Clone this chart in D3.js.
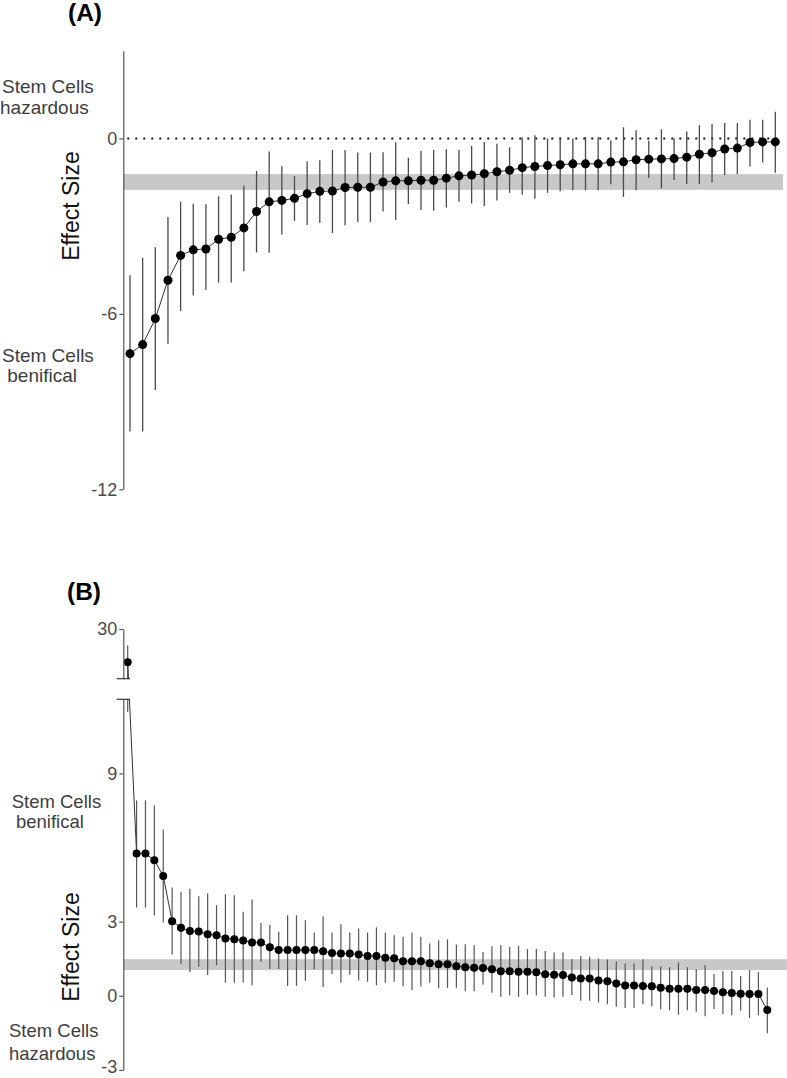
<!DOCTYPE html>
<html>
<head>
<meta charset="utf-8">
<script src="https://cdn.jsdelivr.net/npm/d3@7"></script>
<style>
  body { margin: 0; background: #fff; }
  text { font-family: "Liberation Sans", Arial, sans-serif; }
</style>
</head>
<body>
<div id="chart"></div>
<script>
// Panel A: effect sizes (mean + interval), sorted
var aMean = [-7.36, -7.05, -6.16, -4.85, -4.00, -3.81, -3.78, -3.45, -3.38, -3.06,
  -2.50, -2.17, -2.12, -2.05, -1.89, -1.81, -1.80, -1.68, -1.67, -1.67,
  -1.49, -1.45, -1.45, -1.43, -1.43, -1.36, -1.28, -1.25, -1.21, -1.14,
  -1.09, -1.00, -0.96, -0.93, -0.90, -0.87, -0.87, -0.87, -0.81, -0.80,
  -0.73, -0.71, -0.70, -0.69, -0.64, -0.54, -0.49, -0.36, -0.33, -0.14,
  -0.12, -0.12];
var aHigh = [-4.68, -4.08, -3.72, -2.69, -2.16, -2.23, -2.25, -1.98, -1.92, -1.61,
  -1.11, -0.45, -0.95, -1.29, -0.78, -0.75, -0.39, -0.40, -0.48, -0.48,
  -0.47, -0.13, -0.66, -0.42, -0.40, -0.37, -0.39, -0.26, -0.12, -0.18,
  -0.30, 0.03, 0.11, 0.00, 0.00, 0.00, 0.05, 0.05, -0.06, 0.38,
  0.28, -0.08, 0.31, 0.01, 0.24, 0.45, 0.49, 0.53, 0.53, 0.64,
  0.64, 0.91];
var aLow = [-10.02, -10.02, -8.60, -7.02, -5.90, -5.37, -5.18, -4.93, -4.93, -4.54,
  -3.90, -3.91, -3.29, -2.82, -2.96, -2.89, -3.24, -2.97, -2.86, -2.86,
  -2.50, -2.79, -2.24, -2.45, -2.47, -2.36, -2.17, -2.23, -2.31, -2.12,
  -1.86, -1.93, -2.06, -1.86, -1.81, -1.77, -1.77, -1.77, -1.57, -2.00,
  -1.77, -1.35, -1.71, -1.42, -1.56, -1.56, -1.51, -1.25, -1.22, -0.96,
  -0.82, -1.17];
var aBand = [-1.76, -1.22];
var aTicks = [0, -6, -12];

// Panel B
var bMean = [26.0, 5.76, 5.76, 5.49, 4.85, 3.02, 2.75, 2.62, 2.60, 2.49,
  2.45, 2.32, 2.29, 2.24, 2.16, 2.16, 1.96, 1.85, 1.85, 1.85,
  1.85, 1.85, 1.80, 1.73, 1.71, 1.71, 1.67, 1.61, 1.61, 1.54,
  1.52, 1.40, 1.40, 1.40, 1.32, 1.28, 1.28, 1.20, 1.15, 1.13,
  1.12, 1.07, 0.99, 0.99, 0.97, 0.97, 0.95, 0.87, 0.85, 0.84,
  0.74, 0.70, 0.70, 0.62, 0.59, 0.50, 0.42, 0.42, 0.40, 0.39,
  0.32, 0.28, 0.28, 0.28, 0.23, 0.23, 0.19, 0.14, 0.11, 0.08,
  0.07, 0.07, -0.58];
var bHigh = [28.0, 7.91, 7.91, 7.70, 6.73, 4.38, 4.21, 4.33, 4.03, 4.14,
  3.67, 4.11, 4.07, 3.40, 3.90, 2.95, 2.86, 2.59, 3.26, 3.26,
  3.06, 2.56, 3.22, 2.56, 2.90, 2.56, 2.72, 2.56, 2.77, 2.56,
  2.45, 2.39, 2.56, 2.39, 2.12, 2.25, 2.28, 2.08, 2.09, 2.05,
  1.77, 2.00, 2.05, 1.98, 2.02, 1.89, 1.89, 1.81, 1.75, 1.75,
  1.48, 1.61, 1.58, 1.51, 1.47, 1.40, 1.31, 1.31, 1.47, 1.20,
  1.20, 1.16, 1.35, 1.15, 1.08, 1.24, 0.88, 1.00, 1.00, 0.80,
  1.04, 0.96, 0.34];
var bLow = [11.5, 3.57, 3.57, 3.25, 2.97, 1.67, 1.29, 0.95, 1.17, 0.84,
  1.24, 0.53, 0.53, 0.54, 0.43, 1.37, 1.08, 1.08, 0.40, 0.40,
  0.61, 1.07, 0.36, 0.88, 0.53, 0.85, 0.62, 0.57, 0.43, 0.53,
  0.57, 0.39, 0.23, 0.39, 0.53, 0.30, 0.32, 0.32, 0.18, 0.18,
  0.46, 0.12, -0.04, 0.01, -0.05, 0.04, 0.01, -0.04, -0.07, -0.04,
  0.03, -0.20, -0.20, -0.27, -0.34, -0.44, -0.49, -0.49, -0.34, -0.42,
  -0.55, -0.59, -0.77, -0.59, -0.65, -0.83, -0.54, -0.74, -0.79, -0.61,
  -0.90, -0.79, -1.52];
var bBand = [1.04, 1.48];
var bTicksLow = [9, 3, 0, -3];
var bTicksTop = [30];

var svgWidth = 787;
var svgHeight = 1078;
var axisX = 123.3;
var textColor = "#3d3d3d";
var plainFormat = d => String(d);   // hyphen minus, like the original

var svg = d3.select("#chart")
  .append("svg")
  .attr("width", svgWidth)
  .attr("height", svgHeight);

var defs = svg.append("defs");

function styleAxis(g) {
  g.select(".domain").attr("stroke", "#555").attr("stroke-width", 1.2);
  g.selectAll(".tick line").attr("stroke", "#555").attr("stroke-width", 1.2);
  g.selectAll(".tick text")
    .attr("fill", "#4a4a4a")
    .attr("font-size", 18)
    .attr("font-family", "'Liberation Sans', Arial, sans-serif");
}

function sideLabel(lines, x, y, size) {
  lines.forEach(function(l, i) {
    svg.append("text")
      .attr("x", x[i])
      .attr("y", y[i])
      .attr("font-size", size)
      .attr("fill", textColor)
      .text(l);
  });
}

// ---------------- Panel A ----------------
var xA = d3.scaleLinear().domain([0, aMean.length - 1]).range([130, 775.3]);
var yA = d3.scaleLinear().domain([-12, 3]).range([489.3, 50.7]);
var aData = aMean.map(function(m, i) { return { i: i, m: m, lo: aLow[i], hi: aHigh[i] }; });

var gA = svg.append("g");

gA.append("rect")
  .attr("x", axisX)
  .attr("y", yA(aBand[1]))
  .attr("width", 783 - axisX)
  .attr("height", yA(aBand[0]) - yA(aBand[1]))
  .attr("fill", "#c8c8c8");

gA.append("line")
  .attr("x1", axisX + 4)
  .attr("x2", 783)
  .attr("y1", yA(0))
  .attr("y2", yA(0))
  .attr("stroke", "#111")
  .attr("stroke-width", 2)
  .attr("stroke-dasharray", "2,6");

gA.selectAll(".err")
  .data(aData)
  .enter()
  .append("line")
  .attr("x1", d => xA(d.i))
  .attr("x2", d => xA(d.i))
  .attr("y1", d => yA(d.hi))
  .attr("y2", d => yA(d.lo))
  .attr("stroke", "#4a4a4a")
  .attr("stroke-width", 1.3);

gA.append("path")
  .datum(aData)
  .attr("fill", "none")
  .attr("stroke", "#333")
  .attr("stroke-width", 1)
  .attr("d", d3.line().x(d => xA(d.i)).y(d => yA(d.m)));

gA.selectAll("circle")
  .data(aData)
  .enter()
  .append("circle")
  .attr("cx", d => xA(d.i))
  .attr("cy", d => yA(d.m))
  .attr("r", 4.5)
  .attr("fill", "#000");

svg.append("g")
  .attr("transform", `translate(${axisX},0)`)
  .call(d3.axisLeft(yA).tickValues(aTicks).tickSize(4).tickSizeOuter(0).tickPadding(2).tickFormat(plainFormat))
  .call(styleAxis);

svg.append("text")
  .attr("x", 68)
  .attr("y", 21)
  .attr("font-size", 24.5)
  .attr("font-weight", "bold")
  .attr("fill", "#000")
  .text("(A)");

svg.append("text")
  .attr("transform", "translate(79,206) rotate(-90)")
  .attr("text-anchor", "middle")
  .attr("font-size", 23)
  .attr("fill", "#111")
  .text("Effect Size");

sideLabel(["Stem Cells", "hazardous"], [2, 0], [93.3, 114], 19);
sideLabel(["Stem Cells", "benifical"], [2, 7.3], [361.7, 381.7], 19);

// ---------------- Panel B (broken axis) ----------------
var xB = d3.scaleLinear().domain([0, bMean.length - 1]).range([127.7, 767.3]);
var yB = d3.scaleLinear().domain([-3, 12]).range([1069.9, 699.3]);
var yBt = d3.scaleLinear().domain([24, 30]).range([678.7, 629]);
function yBy(v) { return v > 12 ? yBt(v) : yB(v); }

var bData = bMean.map(function(m, i) { return { i: i, m: m, lo: bLow[i], hi: bHigh[i] }; });

// clip away the gap between the two axis segments
var clip = defs.append("clipPath").attr("id", "gapclip");
clip.append("rect").attr("x", 0).attr("y", yBt(30) - 20).attr("width", svgWidth).attr("height", yBt(24) - yBt(30) + 20);
clip.append("rect").attr("x", 0).attr("y", yB(12)).attr("width", svgWidth).attr("height", svgHeight - yB(12));

var gB = svg.append("g");

gB.append("rect")
  .attr("x", axisX)
  .attr("y", yB(bBand[1]))
  .attr("width", svgWidth - axisX)
  .attr("height", yB(bBand[0]) - yB(bBand[1]))
  .attr("fill", "#c8c8c8");

var gBc = gB.append("g").attr("clip-path", "url(#gapclip)");

gBc.selectAll(".err")
  .data(bData)
  .enter()
  .append("line")
  .attr("x1", d => xB(d.i))
  .attr("x2", d => xB(d.i))
  .attr("y1", d => yBy(d.hi))
  .attr("y2", d => yBy(d.lo))
  .attr("stroke", "#555")
  .attr("stroke-width", 1.2);

gBc.append("path")
  .datum(bData)
  .attr("fill", "none")
  .attr("stroke", "#333")
  .attr("stroke-width", 1)
  .attr("d", d3.line().x(d => xB(d.i)).y(d => yBy(d.m)));

gBc.selectAll("circle")
  .data(bData)
  .enter()
  .append("circle")
  .attr("cx", d => xB(d.i))
  .attr("cy", d => yBy(d.m))
  .attr("r", 4)
  .attr("fill", "#000");

svg.append("g")
  .attr("transform", `translate(${axisX},0)`)
  .call(d3.axisLeft(yBt).tickValues(bTicksTop).tickSize(4).tickSizeOuter(0).tickPadding(2).tickFormat(plainFormat))
  .call(styleAxis);

var yAxisB = svg.append("g")
  .attr("transform", `translate(${axisX},0)`)
  .call(d3.axisLeft(yB).tickValues(bTicksLow).tickSize(4).tickSizeOuter(0).tickPadding(2).tickFormat(plainFormat))
  .call(styleAxis);

// keep the bottom label inside the page
yAxisB.selectAll(".tick text").filter(d => d === -3).attr("dy", "0.12em");

// break marks
[yBt(24), yB(12)].forEach(function(y) {
  svg.append("line")
    .attr("x1", 116.7)
    .attr("x2", 130)
    .attr("y1", y)
    .attr("y2", y)
    .attr("stroke", "#333")
    .attr("stroke-width", 1.2);
});

svg.append("text")
  .attr("x", 67)
  .attr("y", 600)
  .attr("font-size", 24.5)
  .attr("font-weight", "bold")
  .attr("fill", "#000")
  .text("(B)");

svg.append("text")
  .attr("transform", "translate(79,947) rotate(-90)")
  .attr("text-anchor", "middle")
  .attr("font-size", 23)
  .attr("fill", "#111")
  .text("Effect Size");

sideLabel(["Stem Cells", "benifical"], [11.7, 16], [808.3, 828.3], 18.5);
sideLabel(["Stem Cells", "hazardous"], [9, 9], [1036.5, 1059.5], 18.5);
</script>
</body>
</html>
